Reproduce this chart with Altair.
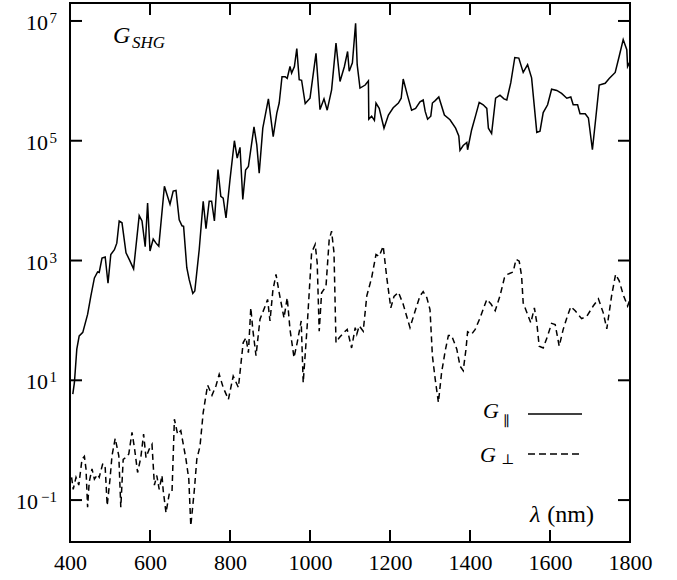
import altair as alt
import pandas as pd

# ---- data (wavelength in nm, log10 of G) ----
par_wl = [407, 411, 417, 423, 432, 444, 452, 461, 469, 473, 480, 488, 495, 502, 511, 517, 523, 530, 540, 548,
          559, 573, 580, 588, 594, 600, 608, 615, 622, 636, 650, 658, 665, 673, 680, 684, 692, 698, 707, 712,
          723, 733, 740, 748, 754, 761, 770, 777, 783, 790, 800, 811, 818, 825, 832, 839, 846, 860, 867, 873,
          882, 896, 908, 917, 923, 930, 938, 943, 950, 954, 961, 967, 973, 979, 988, 1000, 1015, 1025, 1035, 1043,
          1054, 1065, 1075, 1086, 1094, 1098, 1106, 1114, 1118, 1125, 1138, 1146, 1147, 1154, 1161, 1165, 1173, 1185, 1196, 1208,
          1221, 1228, 1233, 1244, 1254, 1264, 1275, 1283, 1288, 1294, 1302, 1306, 1313, 1322, 1336, 1350, 1364, 1372, 1375, 1383,
          1392, 1394, 1404, 1414, 1423, 1433, 1442, 1446, 1454, 1464, 1475, 1485, 1492, 1502, 1512, 1522, 1533, 1544, 1554, 1567,
          1575, 1583, 1594, 1604, 1617, 1629, 1642, 1652, 1658, 1669, 1675, 1688, 1696, 1706, 1714, 1723, 1738, 1748, 1763, 1773,
          1783, 1792, 1794, 1800]
par_log = [0.77, 0.96, 1.52, 1.74, 1.80, 2.10, 2.40, 2.71, 2.81, 2.80, 3.04, 3.06, 2.62, 3.10, 3.18, 3.29, 3.66, 3.63, 3.13, 3.02,
           2.86, 3.75, 3.66, 3.23, 3.96, 3.16, 3.36, 3.29, 3.24, 4.24, 3.94, 4.16, 4.17, 3.68, 3.58, 3.57, 2.88, 2.68, 2.45, 2.49,
           3.18, 3.99, 3.53, 3.99, 3.99, 3.66, 4.52, 4.07, 4.04, 3.71, 4.35, 5.00, 4.71, 4.89, 4.02, 4.51, 4.57, 5.23, 4.93, 4.46,
           5.21, 5.70, 5.07, 5.46, 5.63, 6.07, 6.07, 6.04, 6.24, 6.13, 6.24, 6.54, 6.02, 6.01, 5.62, 5.71, 6.46, 5.52, 5.70, 5.51,
           5.85, 6.63, 5.99, 6.24, 6.49, 6.16, 6.30, 6.96, 6.27, 5.88, 5.93, 6.00, 5.36, 5.41, 5.34, 5.63, 5.54, 5.21, 5.43, 5.55,
           5.63, 5.71, 6.03, 5.75, 5.51, 5.54, 5.65, 5.68, 5.49, 5.36, 5.41, 5.63, 5.67, 5.73, 5.43, 5.35, 5.21, 5.08, 4.84, 4.92,
           4.97, 4.85, 5.18, 5.42, 5.64, 5.60, 5.54, 5.21, 5.12, 5.71, 5.76, 5.70, 5.68, 5.97, 6.39, 6.38, 6.14, 6.27, 6.05, 5.14,
           5.16, 5.47, 5.60, 5.86, 5.84, 5.79, 5.71, 5.73, 5.60, 5.60, 5.45, 5.45, 5.38, 4.85, 5.35, 5.93, 5.96, 6.04, 6.14, 6.41,
           6.69, 6.52, 6.24, 6.32]

perp_wl = [404, 408, 415, 422, 430, 436, 440, 444, 448, 455, 461, 469, 473, 482, 488, 493, 500, 505, 513, 522,
           527, 533, 540, 547, 555, 561, 569, 577, 584, 590, 598, 605, 611, 617, 623, 630, 633, 640, 648, 655,
           661, 669, 677, 690, 697, 702, 711, 717, 725, 733, 744, 755, 765, 773, 783, 796, 808, 821, 833, 840,
           846, 852, 857, 865, 875, 888, 894, 900, 907, 915, 923, 935, 943, 950, 960, 968, 978, 983, 993, 1004,
           1013, 1018, 1023, 1029, 1040, 1048, 1054, 1060, 1065, 1073, 1085, 1093, 1104, 1113, 1117, 1123, 1133, 1142, 1154, 1165,
           1173, 1183, 1192, 1202, 1210, 1221, 1233, 1250, 1263, 1275, 1283, 1292, 1300, 1306, 1313, 1321, 1329, 1338, 1346, 1354,
           1367, 1375, 1383, 1390, 1394, 1404, 1413, 1425, 1442, 1453, 1463, 1475, 1486, 1494, 1508, 1515, 1523, 1529, 1533, 1544,
           1552, 1561, 1567, 1573, 1583, 1594, 1604, 1613, 1623, 1633, 1642, 1652, 1663, 1679, 1692, 1708, 1721, 1733, 1742, 1754,
           1764, 1773, 1783, 1794, 1800]
perp_log = [-0.62, -0.82, -0.62, -0.75, -0.32, -0.27, -0.48, -1.12, -0.70, -0.48, -0.65, -0.57, -0.62, -0.39, -0.46, -1.09, -0.65, -0.26, 0.03, -0.26,
            -1.12, -0.32, -0.29, -0.23, 0.13, -0.12, -0.54, -0.29, 0.10, -0.29, -0.15, -0.07, -0.75, -0.59, -0.82, -0.59, -0.84, -1.21, -0.90, -0.87,
            0.35, 0.10, 0.16, -0.32, -0.65, -1.43, -0.82, -0.32, -0.10, 0.46, 0.92, 0.75, 0.91, 1.10, 0.88, 0.68, 1.07, 0.88, 1.63, 1.71,
            1.46, 2.21, 1.85, 1.41, 2.02, 2.24, 2.35, 1.99, 2.49, 2.77, 2.46, 2.04, 2.38, 1.85, 1.38, 1.63, 1.99, 0.96, 1.91, 3.13,
            3.27, 2.96, 1.82, 2.46, 2.57, 3.35, 3.49, 3.13, 1.63, 1.71, 1.80, 1.85, 1.54, 1.88, 1.77, 1.91, 1.82, 2.41, 2.71, 3.10,
            3.07, 3.24, 2.71, 2.21, 2.40, 2.47, 2.27, 1.88, 2.16, 2.41, 2.48, 2.38, 2.18, 1.41, 1.02, 0.63, 1.13, 1.49, 1.75, 1.75,
            1.52, 1.24, 1.16, 1.52, 1.81, 1.77, 1.85, 2.04, 2.35, 2.27, 2.16, 2.41, 2.71, 2.77, 2.81, 3.02, 2.99, 2.74, 2.29, 2.10,
            1.96, 2.21, 1.96, 1.57, 1.54, 1.74, 1.95, 1.93, 1.57, 1.85, 2.04, 2.23, 2.16, 2.03, 2.07, 2.24, 2.36, 2.13, 1.86, 2.41,
            2.77, 2.66, 2.43, 2.24, 2.35]

x_ticks = [400, 600, 800, 1000, 1200, 1400, 1600, 1800]
y_ticks = [0.1, 10, 1000, 100000, 10000000]
y_exponents = ["−1", "1", "3", "5", "7"]

W, H = 560, 539
FONT = "Liberation Serif"

par = pd.DataFrame({"x": par_wl, "y": [10 ** v for v in par_log]})
perp = pd.DataFrame({"x": perp_wl, "y": [10 ** v for v in perp_log]})
xt = pd.DataFrame({"x": x_ticks})
yt = pd.DataFrame({"y": y_ticks, "e": y_exponents})

xscale = alt.Scale(domain=[400, 1800], nice=False, zero=False)
yscale = alt.Scale(type="log", domain=[10 ** -1.7, 10 ** 7.3], nice=False)

X = alt.X("x:Q", scale=xscale,
          axis=alt.Axis(values=x_ticks, format="d", ticks=False, tickSize=0, domain=False, grid=False,
                        labelFont=FONT, labelFontSize=22, labelColor="black", labelPadding=10, title=None,
                        labelFlush=False))
Y = alt.Y("y:Q", scale=yscale, axis=None)

solid = alt.Chart(par).mark_line(color="black", strokeWidth=1.5).encode(x=X, y=Y)
dashed = alt.Chart(perp).mark_line(color="black", strokeWidth=1.5, strokeDash=[6, 4]).encode(
    x=alt.X("x:Q", scale=xscale), y=alt.Y("y:Q", scale=yscale))

TL = 12
tick_bottom = alt.Chart(xt).mark_rule(color="black", strokeWidth=2).encode(
    x=alt.X("x:Q", scale=xscale), y=alt.value(H), y2=alt.value(H - TL))
tick_top = alt.Chart(xt).mark_rule(color="black", strokeWidth=2).encode(
    x=alt.X("x:Q", scale=xscale), y=alt.value(0), y2=alt.value(TL))
tick_left = alt.Chart(yt).mark_rule(color="black", strokeWidth=2).encode(
    y=alt.Y("y:Q", scale=yscale), x=alt.value(0), x2=alt.value(TL))
tick_right = alt.Chart(yt).mark_rule(color="black", strokeWidth=2).encode(
    y=alt.Y("y:Q", scale=yscale), x=alt.value(W), x2=alt.value(W - TL))

# y tick labels: "10" with a raised exponent
ybase = alt.Chart(yt).transform_filter("datum.y >= 1").mark_text(
    font=FONT, fontSize=22, align="right", baseline="middle", dy=2, color="black"
).encode(y=alt.Y("y:Q", scale=yscale), x=alt.value(-22), text=alt.value("10"))
ybase_neg = alt.Chart(yt).transform_filter("datum.y < 1").mark_text(
    font=FONT, fontSize=22, align="right", baseline="middle", dy=2, color="black"
).encode(y=alt.Y("y:Q", scale=yscale), x=alt.value(-32), text=alt.value("10"))
yexp = alt.Chart(yt).mark_text(
    font=FONT, fontSize=15, align="right", baseline="alphabetic", dy=2, color="black"
).encode(y=alt.Y("y:Q", scale=yscale), x=alt.value(-13), text="e:N")

one = pd.DataFrame({"a": [0]})


def txt(s, x, y, size, italic=True, align="left", font=FONT):
    return alt.Chart(one).mark_text(
        font=font, fontSize=size, fontStyle="italic" if italic else "normal", align=align,
        baseline="alphabetic", color="black"
    ).encode(x=alt.value(x), y=alt.value(y), text=alt.value(s))


texts = [
    txt("G", 43, 40, 24),
    txt("SHG", 62, 45, 17),
    txt("G", 413, 415, 22),
    txt("∥", 433, 423, 14, italic=False, font="DejaVu Serif"),
    txt("G", 410, 459, 22),
    txt("⊥", 431, 461, 14, italic=False, font="DejaVu Serif"),
    txt("λ", 460, 519, 24),
    txt("(nm)", 524, 519, 24, italic=False, align="right"),
]

leg_solid = alt.Chart(one).mark_rule(color="black", strokeWidth=1.5).encode(
    x=alt.value(458), x2=alt.value(512), y=alt.value(411))
leg_dash = alt.Chart(one).mark_rule(color="black", strokeWidth=1.5, strokeDash=[7, 4]).encode(
    x=alt.value(458), x2=alt.value(512), y=alt.value(451))

chart = alt.layer(
    solid, dashed, tick_bottom, tick_top, tick_left, tick_right, ybase, ybase_neg, yexp,
    leg_solid, leg_dash, *texts
).properties(
    width=W, height=H,
    padding={"left": 70, "top": 3, "right": 47, "bottom": 38},
    autosize=alt.AutoSizeParams(type="none"),
    background="white",
).configure_view(stroke="black", strokeWidth=2)

chart.save("out.html", embed_options={"renderer": "svg", "actions": False})
